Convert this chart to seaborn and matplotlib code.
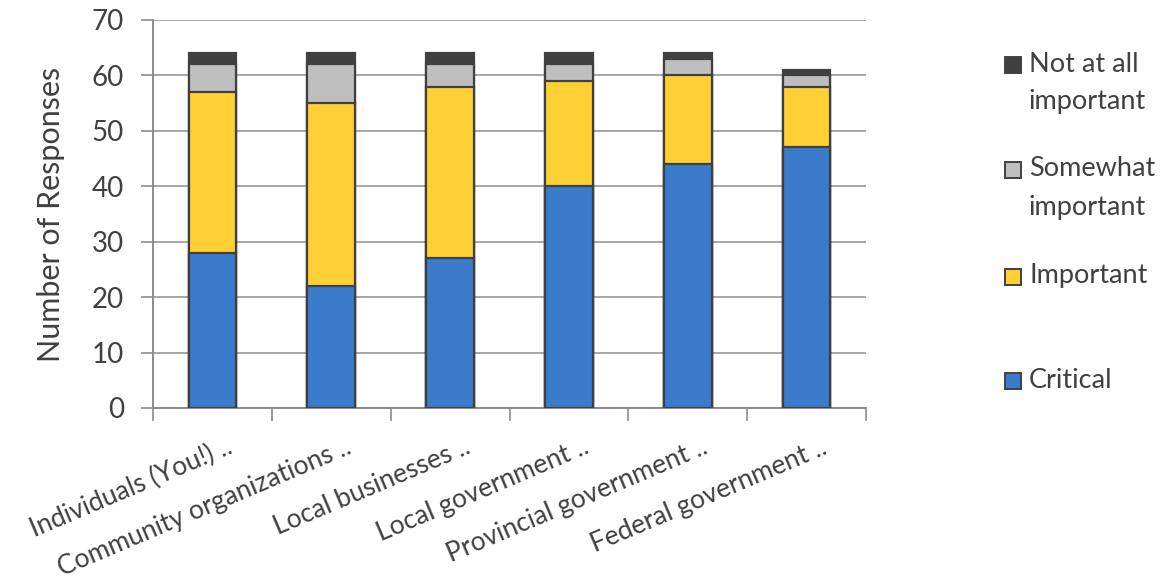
import numpy as np
import pandas as pd
import matplotlib
matplotlib.use("Agg")
import matplotlib.pyplot as plt
import matplotlib.transforms as mtransforms
import seaborn as sns
from matplotlib.patches import Rectangle

# Survey responses per organisation type
categories = [
    "Individuals (You!) ..",
    "Community organizations ..",
    "Local businesses ..",
    "Local government ..",
    "Provincial government ..",
    "Federal government ..",
]
critical = [28, 22, 27, 40, 44, 47]
important = [29, 33, 31, 19, 16, 11]
somewhat_important = [5, 7, 4, 3, 3, 2]
not_at_all_important = [2, 2, 2, 2, 1, 1]

levels = ["Critical", "Important", "Somewhat\nimportant", "Not at all\nimportant"]
colors = ["#3A7BCB", "#FFD033", "#BFBFBF", "#404040"]
series = [critical, important, somewhat_important, not_at_all_important]

df = pd.DataFrame({"category": categories})
running = np.zeros(len(categories))
cum_cols = []
for name, vals in zip(levels, series):
    running = running + np.array(vals)
    col = "cum_" + name
    df[col] = running
    cum_cols.append(col)

sns.set_theme(style="white")
plt.rcParams["font.family"] = ["Lato", "DejaVu Sans"]
text_color = "#404040"
edge_color = "#404040"

W, H = 1160, 586
fig = plt.figure(figsize=(W / 100, H / 100), dpi=100)
ax = fig.add_axes([153 / W, 1 - 408 / H, (866 - 153) / W, (408 - 20) / H])

# Stacked bars: draw cumulative totals from the top segment down
for col, color in reversed(list(zip(cum_cols, colors))):
    sns.barplot(data=df, x="category", y=col, color=color, width=0.4,
                edgecolor=edge_color, linewidth=1.6, saturation=1, ax=ax, zorder=3)

ax.set_ylim(0, 70)
ax.set_xlim(-0.5, len(categories) - 0.5)
ax.set_yticks(np.arange(0, 71, 10))
ax.yaxis.grid(True, color="#A6A6A6", linewidth=1.4, zorder=0)
ax.set_axisbelow(True)

for side in ["top", "right"]:
    ax.spines[side].set_visible(False)
for side in ["left", "bottom"]:
    ax.spines[side].set_color("#8C8C8C")
    ax.spines[side].set_linewidth(1.4)

ax.set_ylabel("Number of Responses", fontsize=22, color=text_color, labelpad=19)
ax.set_xlabel("")
ax.tick_params(axis="y", which="both", left=True, length=9, width=1.2,
               color="#8C8C8C", labelsize=20, labelcolor=text_color, pad=12)

# Category labels under each bar, tick marks between categories
ax.set_xticks(np.arange(len(categories)))
ax.set_xticklabels(categories, rotation=23, ha="right", rotation_mode="anchor",
                   fontsize=19, color=text_color)
ax.tick_params(axis="x", which="major", length=0, pad=19)
ax.set_xticks(np.arange(-0.5, len(categories)), minor=True)
ax.tick_params(axis="x", which="minor", bottom=True, length=9, width=1.2,
               color="#8C8C8C")
shift = mtransforms.ScaledTranslation(14 / 100, 0, fig.dpi_scale_trans)
for lbl in ax.get_xticklabels():
    lbl.set_transform(lbl.get_transform() + shift)

# Legend: swatch aligned with the first line of each label
legend_rows = [("Not at all\nimportant", colors[3], 65),
               ("Somewhat\nimportant", colors[2], 170),
               ("Important", colors[1], 277),
               ("Critical", colors[0], 381)]
sw = 16
for label, color, yc in legend_rows:
    fig.add_artist(Rectangle(((1005) / W, 1 - (yc + sw / 2) / H), sw / W, sw / H,
                             transform=fig.transFigure, facecolor=color,
                             edgecolor=edge_color, linewidth=1.4))
    for i, line in enumerate(label.split("\n")):
        fig.text(1029 / W, 1 - (yc - 1 + i * 38) / H, line, fontsize=19.5,
                 color=text_color, ha="left", va="center")

fig.savefig("out.png", dpi=100)
